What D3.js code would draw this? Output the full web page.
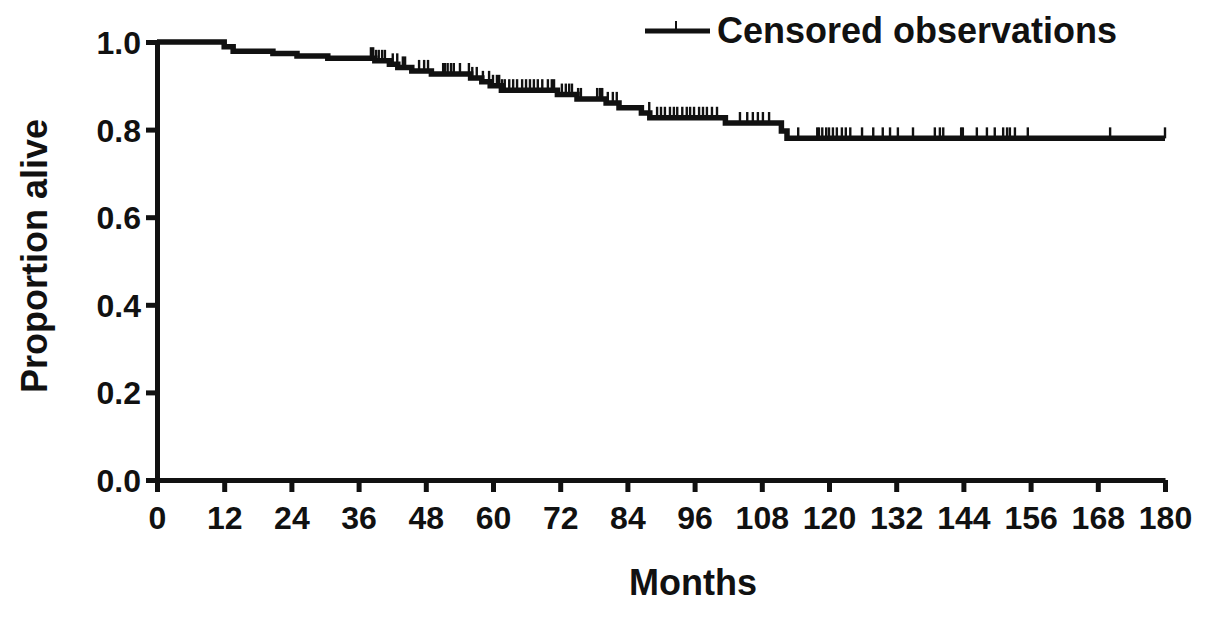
<!DOCTYPE html>
<html><head><meta charset="utf-8">
<script src="https://cdn.jsdelivr.net/npm/d3@7"></script>
<style>
html,body{margin:0;padding:0;background:#fff;}
text{font-family:"Liberation Sans",Arial,sans-serif;font-weight:bold;fill:#111;}
</style></head>
<body><svg id="c" width="1205" height="618"></svg>
<script>
// Kaplan-Meier step data (month at which the step occurs, survival after step)
const stepMonths =   [0, 12, 13.6, 20.7, 25, 30.5, 38.9, 41.5, 43, 45.5, 49, 56, 58, 59.5, 61.5, 71.5, 75, 80.2, 82.5, 86.5, 88, 101.5, 111.5, 112.5];
const stepSurvival = [1.0, 0.989, 0.979, 0.974, 0.968, 0.963, 0.957, 0.949, 0.942, 0.934, 0.927, 0.918, 0.909, 0.900, 0.890, 0.880, 0.870, 0.861, 0.850, 0.838, 0.827, 0.815, 0.797, 0.780];
const endMonth = 180;
// Censored observation times (months)
const censorMonths = [38.2, 38.6, 39.1, 39.6, 40.2, 40.7, 42.1, 42.9, 43.9, 44.3, 46.8, 47.7, 48.4, 51.1, 51.4, 51.9, 52.5, 53.0, 54.1, 55.7, 56.3, 57.1, 58.2, 59.3, 60.0,
  60.7, 61.1, 61.6, 62.1, 62.9, 63.6, 64.3, 65.2, 65.9, 66.6, 67.3, 68.0, 68.8, 69.8, 70.5, 70.9, 72.3, 73.0, 73.6, 74.1, 75.2, 75.7, 78.6, 79.1, 79.5, 80.5, 81.4, 82.1,
  87.9, 89.3, 90.0, 90.7, 91.6, 92.3, 92.9, 93.8, 94.6, 95.2, 95.9, 96.8, 97.5, 98.2, 99.1, 100.0, 104.1, 105.4, 106.4, 107.3, 108.2, 109.3,
  114.5, 117.9, 118.2, 118.8, 119.5, 120.0, 120.7, 121.4, 122.3, 123.0, 123.8, 125.9, 127.9, 129.6, 130.9, 132.3, 135.0, 138.9, 139.8, 140.4,
  143.6, 143.9, 146.4, 148.2, 149.6, 151.1, 151.8, 152.3, 153.2, 155.5, 170.2, 180];
const xTicks = [0,12,24,36,48,60,72,84,96,108,120,132,144,156,168,180];
const yTicks = [0,0.2,0.4,0.6,0.8,1.0];
const legendLabel = "Censored observations";
const xTitle = "Months";
const yTitle = "Proportion alive";

const svg = d3.select("#c");
const x = d3.scaleLinear().domain([0,180]).range([157,1165]);
const y = d3.scaleLinear().domain([0,1]).range([480,42]);

// axes
const xAxis = svg.append("g").attr("transform","translate(0,480)")
  .call(d3.axisBottom(x).tickValues(xTicks).tickFormat(d3.format("d")).tickSize(12).tickSizeOuter(0).tickPadding(14));
const yAxis = svg.append("g").attr("transform","translate(157,0)")
  .call(d3.axisLeft(y).tickValues(yTicks).tickFormat(d3.format(".1f")).tickSize(11).tickSizeOuter(0).tickPadding(5));
[xAxis,yAxis].forEach(a=>{
  a.select(".domain").attr("stroke","#111").attr("stroke-width",5);
  a.selectAll(".tick line").attr("stroke","#111").attr("stroke-width",5);
  a.selectAll(".tick text").style("font-size","32px").style("font-family","'Liberation Sans',Arial,sans-serif").style("font-weight","bold").attr("fill","#111");
});
xAxis.selectAll(".tick text").attr("dy","0.72em");
yAxis.selectAll(".tick text").attr("dy","0.36em");

// KM curve
const pts = stepMonths.map((m,i)=>[m,stepSurvival[i]]);
pts.push([endMonth, stepSurvival[stepSurvival.length-1]]);
const line = d3.line().x(d=>x(d[0])).y(d=>y(d[1])).curve(d3.curveStepAfter);
svg.append("path").datum(pts).attr("d",line).attr("fill","none").attr("stroke","#111").attr("stroke-width",5.5).attr("stroke-linejoin","miter");

// censor ticks
const bis = d3.bisector(d=>d).right;
function survAt(t){ const i = bis(stepMonths,t)-1; return stepSurvival[Math.max(0,i)]; }
svg.append("g").selectAll("line").data(censorMonths).join("line")
  .attr("x1",d=>x(d)).attr("x2",d=>x(d))
  .attr("y1",d=>y(survAt(d))).attr("y2",d=>y(survAt(d))-11)
  .attr("stroke","#111").attr("stroke-width",2.4);

// titles
svg.append("text").attr("x",693).attr("y",595).attr("text-anchor","middle").style("font-size","36px").text(xTitle);
svg.append("text").attr("transform","translate(47,256) rotate(-90)").attr("text-anchor","middle").style("font-size","36px").text(yTitle);

// legend
const lg = svg.append("g");
lg.append("line").attr("x1",645).attr("x2",710).attr("y1",31).attr("y2",31).attr("stroke","#111").attr("stroke-width",5);
lg.append("line").attr("x1",676).attr("x2",676).attr("y1",31).attr("y2",21).attr("stroke","#111").attr("stroke-width",2);
lg.append("text").attr("x",717).attr("y",43).style("font-size","36px").text(legendLabel);
</script></body></html>
